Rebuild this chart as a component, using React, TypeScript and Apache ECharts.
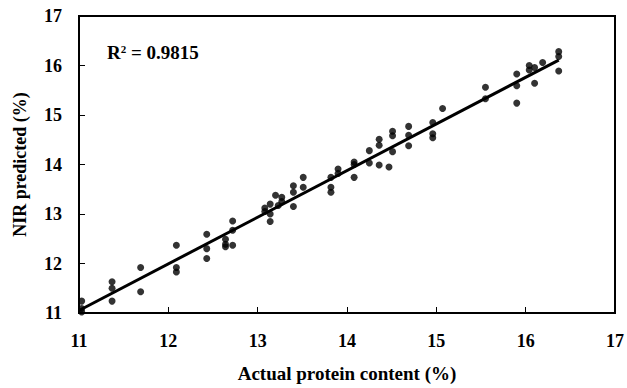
import React, { useEffect, useRef } from "react";
import * as echarts from "echarts";

const actual = [
  11.03, 11.03, 11.03, 11.37, 11.37, 11.37, 11.69, 11.69, 12.09, 12.09, 12.09,
  12.43, 12.43, 12.43, 12.64, 12.64, 12.64, 12.72, 12.72, 12.72, 13.08, 13.08,
  13.14, 13.14, 13.14, 13.2, 13.23, 13.27, 13.27, 13.4, 13.4, 13.4, 13.51, 13.51,
  13.82, 13.82, 13.82, 13.9, 13.9, 14.08, 14.08, 14.08, 14.25, 14.25, 14.36,
  14.36, 14.36, 14.47, 14.51, 14.51, 14.51, 14.69, 14.69, 14.69, 14.96, 14.96,
  14.96, 15.07, 15.55, 15.55, 15.9, 15.9, 15.9, 16.04, 16.04, 16.1, 16.1, 16.19,
  16.37, 16.37, 16.37,
];
const predicted = [
  11.24, 11.09, 11.02, 11.63, 11.5, 11.24, 11.92, 11.43, 12.37, 11.92, 11.83,
  12.59, 12.3, 12.1, 12.49, 12.39, 12.34, 12.86, 12.67, 12.37, 13.12, 13.05,
  13.2, 13.0, 12.85, 13.38, 13.17, 13.34, 13.25, 13.57, 13.44, 13.15, 13.74,
  13.54, 13.74, 13.54, 13.44, 13.91, 13.82, 14.05, 14.0, 13.74, 14.28, 14.03,
  14.51, 14.39, 13.99, 13.95, 14.67, 14.58, 14.26, 14.77, 14.59, 14.38, 14.85,
  14.62, 14.54, 15.13, 15.56, 15.33, 15.83, 15.59, 15.24, 16.0, 15.91, 15.96,
  15.64, 16.06, 16.28, 16.18, 15.89,
];
const fitX = [11.0, 16.37];
const fitY = [11.05, 16.11];
const xTicks = [11, 12, 13, 14, 15, 16, 17];
const yTicks = [11, 12, 13, 14, 15, 16, 17];
const r2Label = "0.9815";

const FONT = "'Liberation Serif', 'Times New Roman', serif";

export default function App() {
  const ref = useRef<HTMLDivElement>(null);
  useEffect(() => {
    if (!ref.current) return;
    const chart = echarts.init(ref.current, null, { renderer: "svg" });
    chart.setOption({
      animation: false,
      backgroundColor: "#ffffff",
      grid: {
        left: 79,
        right: 9,
        top: 16,
        bottom: 67,
        show: true,
        borderColor: "#000",
        borderWidth: 2,
      },
      xAxis: {
        type: "value",
        min: xTicks[0],
        max: xTicks[xTicks.length - 1],
        interval: 1,
        name: "Actual protein content (%)",
        nameLocation: "middle",
        nameGap: 51,
        nameTextStyle: { fontFamily: FONT, fontWeight: "bold", fontSize: 19, color: "#000" },
        axisLine: { show: true, lineStyle: { color: "#000", width: 2 } },
        axisTick: { show: true, inside: true, length: 6, lineStyle: { color: "#000" } },
        axisLabel: { fontFamily: FONT, fontWeight: "bold", fontSize: 18, color: "#000", margin: 19 },
        splitLine: { show: false },
      },
      yAxis: {
        type: "value",
        min: yTicks[0],
        max: yTicks[yTicks.length - 1],
        interval: 1,
        name: "NIR predicted (%)",
        nameLocation: "middle",
        nameGap: 50,
        nameTextStyle: { fontFamily: FONT, fontWeight: "bold", fontSize: 18, color: "#000" },
        axisLine: { show: true, lineStyle: { color: "#000", width: 2 } },
        axisTick: { show: true, inside: true, length: 6, lineStyle: { color: "#000" } },
        axisLabel: { fontFamily: FONT, fontWeight: "bold", fontSize: 18, color: "#000", margin: 17 },
        splitLine: { show: false },
      },
      series: [
        {
          type: "scatter",
          data: actual.map((x, i) => [x, predicted[i]]),
          symbol: "circle",
          symbolSize: 7,
          itemStyle: { color: "#000" },
          z: 3,
        },
        {
          type: "line",
          data: fitX.map((x, i) => [x, fitY[i]]),
          symbol: "none",
          lineStyle: { color: "#000", width: 3 },
          z: 2,
        },
      ],
      graphic: [
        {
          type: "text",
          left: 107,
          top: 43,
          style: {
            text: "{r|R}{s|2}{r| = " + r2Label + "}",
            rich: {
              r: { fontFamily: FONT, fontWeight: "bold", fontSize: 19, fill: "#000", verticalAlign: "bottom" },
              s: { fontFamily: FONT, fontWeight: "bold", fontSize: 11, fill: "#000", verticalAlign: "top", padding: [0, 0, 8, 0] },
            },
          },
        },
      ],
    });
    return () => chart.dispose();
  }, []);
  return (
    <div
      ref={ref}
      style={{ position: "absolute", left: 0, top: 0, width: 627, height: 388 }}
    />
  );
}
